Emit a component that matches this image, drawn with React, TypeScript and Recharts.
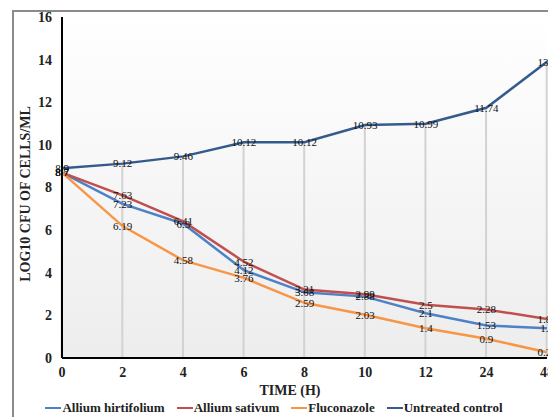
import React from 'react'
import {
  ComposedChart,
  Line,
  Bar,
  XAxis,
  YAxis,
  CartesianGrid,
  LabelList,
} from 'recharts'

// time points (h) – equally spaced categories on the axis
const timeLabels = ['0', '2', '4', '6', '8', '10', '12', '24', '48']
const yTicks = [0, 2, 4, 6, 8, 10, 12, 14, 16]

const hirtifolium = [8.7, 7.23, 6.3, 4.12, 3.08, 2.88, 2.1, 1.53, 1.4]
const sativum = [8.7, 7.63, 6.41, 4.52, 3.21, 2.99, 2.5, 2.28, 1.83]
const fluconazole = [8.7, 6.19, 4.58, 3.76, 2.59, 2.03, 1.4, 0.9, 0.27]
const untreated = [8.9, 9.12, 9.46, 10.12, 10.12, 10.93, 10.99, 11.74, 13.9]

const SERIES = [
  { key: 'hirtifolium', name: 'Allium hirtifolium', color: '#4f81c7' },
  { key: 'sativum', name: 'Allium sativum', color: '#c0504d' },
  { key: 'fluconazole', name: 'Fluconazole', color: '#f79646' },
  { key: 'untreated', name: 'Untreated control', color: '#355b8c' },
]

const data = timeLabels.map((t, i) => ({
  idx: i,
  time: t,
  hirtifolium: hirtifolium[i],
  sativum: sativum[i],
  fluconazole: fluconazole[i],
  untreated: untreated[i],
}))

const serif = '"Liberation Serif", "Times New Roman", serif'

// data labels sit centred on the point, like excel's "center" option
const PointLabel = (props: any) => {
  const { x, y, value } = props
  if (x == null || y == null) return null
  return (
    <text x={x} y={y} dy="0.35em" textAnchor="middle" fontSize={11} fontFamily={serif} fill="#111">
      {value}
    </text>
  )
}

export default function App() {
  // fixed frame = the whole 548x417 window, the chart is cropped on the right like the source
  return (
    <div style={{ position: 'fixed', left: 0, top: 0, width: 548, height: 417, overflow: 'hidden', background: '#fff' }}>
      <div
        style={{
          position: 'absolute',
          left: 12,
          top: 10,
          width: 700,
          height: 500,
          border: '2px solid #8a8a8a',
        }}
      />
      <div style={{ position: 'absolute', left: 8, top: 8 }}>
        <ComposedChart width={560} height={409} data={data} margin={{ top: 9, right: 21, left: 0, bottom: 29 }}>
          <defs>
            <linearGradient id="plotBg" x1="0" y1="0" x2="0" y2="1">
              <stop offset="0%" stopColor="#ffffff" />
              <stop offset="100%" stopColor="#ededed" />
            </linearGradient>
          </defs>
          <CartesianGrid horizontal={false} vertical={false} fill="url(#plotBg)" />
          <XAxis
            type="number"
            dataKey="idx"
            domain={[0, 8]}
            ticks={[0, 1, 2, 3, 4, 5, 6, 7, 8]}
            interval={0}
            tickFormatter={(i: number) => timeLabels[i]}
            stroke="#000"
            strokeWidth={2}
            tickLine={false}
            tickSize={0}
            tickMargin={9}
            height={30}
            tick={{ fontSize: 14, fontWeight: 'bold', fontFamily: serif, fill: '#222' }}
          />
          <YAxis
            domain={[0, 16]}
            ticks={yTicks}
            interval={0}
            stroke="#000"
            strokeWidth={2}
            tickLine={false}
            tickSize={0}
            tickMargin={10}
            width={54}
            tick={{ fontSize: 14, fontWeight: 'bold', fontFamily: serif, fill: '#222' }}
          />
          {/* drop lines from the highest series down to the axis */}
          <Bar dataKey="untreated" barSize={2} fill="#d2d2d2" isAnimationActive={false} legendType="none" />
          {SERIES.map((s) => (
            <Line
              key={s.key}
              type="linear"
              dataKey={s.key}
              name={s.name}
              stroke={s.color}
              strokeWidth={2.5}
              dot={false}
              activeDot={false}
              isAnimationActive={false}
            >
              <LabelList dataKey={s.key} content={<PointLabel />} />
            </Line>
          ))}
        </ComposedChart>
      </div>

      {/* axis titles */}
      <div
        style={{
          position: 'absolute',
          left: 26,
          top: 194,
          transform: 'translate(-50%, -50%) rotate(-90deg)',
          whiteSpace: 'nowrap',
          fontFamily: serif,
          fontWeight: 'bold',
          fontSize: 14,
          color: '#222',
        }}
      >
        LOG10 CFU OF CELLS/ML
      </div>
      <div
        style={{
          position: 'absolute',
          left: 290,
          top: 391,
          transform: 'translate(-50%, -50%)',
          whiteSpace: 'nowrap',
          fontFamily: serif,
          fontWeight: 'bold',
          fontSize: 14,
          color: '#222',
        }}
      >
        TIME (H)
      </div>

      {/* legend */}
      <div
        style={{
          position: 'absolute',
          left: 8,
          width: 532,
          top: 400,
          height: 16,
          display: 'flex',
          justifyContent: 'center',
          alignItems: 'center',
          gap: 12,
          fontFamily: serif,
          fontWeight: 'bold',
          fontSize: 13,
          color: '#222',
          whiteSpace: 'nowrap',
        }}
      >
        {SERIES.map((s) => (
          <div key={s.key} style={{ display: 'flex', alignItems: 'center', gap: 1 }}>
            <span style={{ display: 'inline-block', width: 16, height: 2, background: s.color }} />
            <span>{s.name}</span>
          </div>
        ))}
      </div>
    </div>
  )
}
